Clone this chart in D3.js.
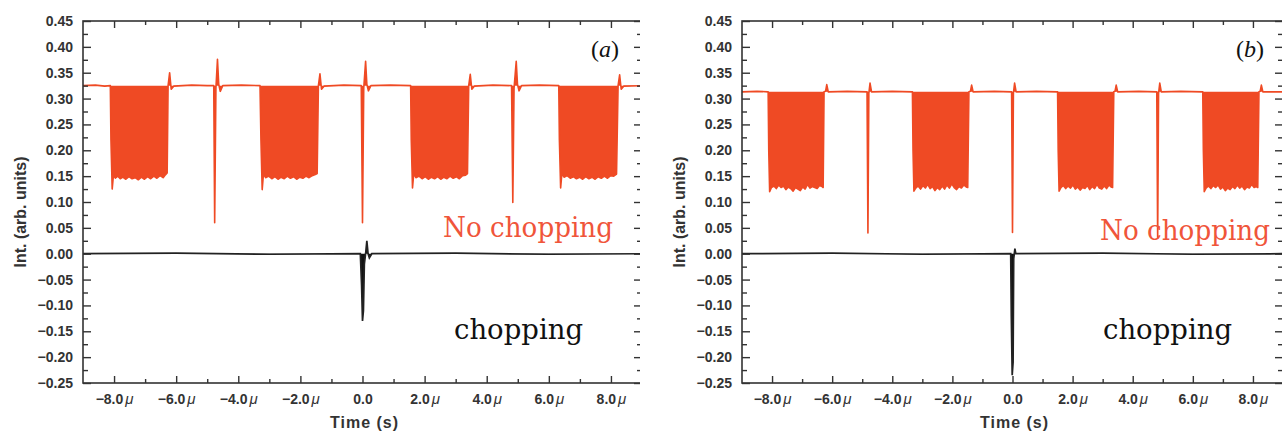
<!DOCTYPE html>
<html>
<head>
<meta charset="utf-8">
<script src="https://cdn.jsdelivr.net/npm/d3@7"></script>
<style>
body { margin: 0; background: #fff; }
svg { display: block; }
</style>
</head>
<body>
<div id="chart"></div>
<script>
// axis ticks
const yMajor = [-0.25, -0.20, -0.15, -0.10, -0.05, 0.00, 0.05, 0.10, 0.15, 0.20, 0.25, 0.30, 0.35, 0.40, 0.45];
const yMinor = [-0.225, -0.175, -0.125, -0.075, -0.025, 0.025, 0.075, 0.125, 0.175, 0.225, 0.275, 0.325, 0.375, 0.425];
const xMajor = [-8, -6, -4, -2, 0, 2, 4, 6, 8];
const xMajorLabels = ["−8.0", "−6.0", "−4.0", "−2.0", "0.0", "2.0", "4.0", "6.0", "8.0"];
const xMinor = [-7, -5, -3, -1, 1, 3, 5, 7];

// panel (a): no chopping trace [time µs, intensity]
const redA = [
  [-9.0, 0.325], [-8.6, 0.326], [-8.3, 0.324], [-8.12, 0.325],
  [-8.10, 0.22], [-8.06, 0.125], [-8.02, 0.152], [-7.96, 0.146], [-7.88, 0.150], [-7.80, 0.145], [-7.72, 0.148],
  [-7.62, 0.144], [-7.52, 0.149], [-7.42, 0.145], [-7.32, 0.147], [-7.22, 0.143], [-7.12, 0.148], [-7.02, 0.144],
  [-6.92, 0.149], [-6.82, 0.145], [-6.72, 0.150], [-6.62, 0.146], [-6.52, 0.151], [-6.42, 0.147], [-6.34, 0.153],
  [-6.29, 0.156], [-6.26, 0.325],
  [-6.21, 0.350], [-6.16, 0.318], [-6.08, 0.324], [-5.5, 0.326], [-5.0, 0.325], [-4.79, 0.325],
  [-4.76, 0.060], [-4.72, 0.320], [-4.67, 0.376], [-4.63, 0.328], [-4.58, 0.314], [-4.50, 0.325],
  [-3.9, 0.326], [-3.30, 0.325],
  [-3.27, 0.22], [-3.23, 0.124], [-3.19, 0.154], [-3.12, 0.147], [-3.02, 0.150], [-2.92, 0.145], [-2.82, 0.149],
  [-2.72, 0.144], [-2.62, 0.148], [-2.52, 0.145], [-2.42, 0.150], [-2.32, 0.146], [-2.22, 0.149], [-2.12, 0.144],
  [-2.02, 0.148], [-1.92, 0.146], [-1.82, 0.150], [-1.72, 0.147], [-1.62, 0.151], [-1.52, 0.153], [-1.46, 0.155],
  [-1.42, 0.325],
  [-1.37, 0.348], [-1.32, 0.318], [-1.24, 0.324], [-0.6, 0.326], [-0.04, 0.325],
  [0.00, 0.060], [0.04, 0.320], [0.10, 0.372], [0.14, 0.328], [0.19, 0.315], [0.27, 0.325],
  [0.9, 0.326], [1.55, 0.325],
  [1.57, 0.22], [1.61, 0.127], [1.65, 0.155], [1.72, 0.147], [1.82, 0.150], [1.92, 0.145], [2.02, 0.149],
  [2.12, 0.144], [2.22, 0.148], [2.32, 0.145], [2.42, 0.149], [2.52, 0.144], [2.62, 0.148], [2.72, 0.145],
  [2.82, 0.150], [2.92, 0.146], [3.02, 0.149], [3.12, 0.145], [3.22, 0.151], [3.32, 0.152], [3.38, 0.155],
  [3.42, 0.325],
  [3.47, 0.347], [3.52, 0.318], [3.60, 0.324], [4.2, 0.326], [4.80, 0.325],
  [4.84, 0.099], [4.88, 0.320], [4.95, 0.372], [4.99, 0.328], [5.04, 0.315], [5.12, 0.325],
  [5.7, 0.326], [6.32, 0.325],
  [6.34, 0.22], [6.38, 0.127], [6.42, 0.155], [6.49, 0.148], [6.59, 0.151], [6.69, 0.146], [6.79, 0.149],
  [6.89, 0.145], [6.99, 0.148], [7.09, 0.144], [7.19, 0.149], [7.29, 0.145], [7.39, 0.148], [7.49, 0.144],
  [7.59, 0.149], [7.69, 0.146], [7.79, 0.150], [7.89, 0.146], [7.99, 0.151], [8.09, 0.150], [8.18, 0.154],
  [8.23, 0.325],
  [8.28, 0.346], [8.33, 0.318], [8.41, 0.324], [9.0, 0.325]
];
const baseA = 0.325;

// panel (a): chopping trace
const blackA = [
  [-9.0, 0.0], [-6.0, 0.001], [-3.0, -0.001], [-0.07, 0.0],
  [-0.03, -0.06], [0.00, -0.130], [0.03, -0.110], [0.06, -0.020], [0.10, 0.0],
  [0.14, 0.025], [0.18, 0.0], [0.22, -0.008], [0.30, 0.0], [3.0, 0.001], [6.0, -0.001], [9.0, 0.0]
];

// panel (b): no chopping trace
const redB = [
  [-9.0, 0.313], [-8.5, 0.314], [-8.13, 0.313],
  [-8.11, 0.20], [-8.08, 0.120], [-8.02, 0.128], [-7.94, 0.131], [-7.86, 0.126], [-7.78, 0.133], [-7.70, 0.128],
  [-7.62, 0.131], [-7.54, 0.124], [-7.46, 0.129], [-7.38, 0.126], [-7.30, 0.121], [-7.22, 0.128], [-7.14, 0.125],
  [-7.06, 0.122], [-6.98, 0.129], [-6.90, 0.125], [-6.82, 0.134], [-6.74, 0.127], [-6.66, 0.130], [-6.58, 0.128],
  [-6.50, 0.126], [-6.42, 0.132], [-6.34, 0.130], [-6.30, 0.128], [-6.27, 0.313],
  [-6.22, 0.314], [-6.18, 0.327], [-6.13, 0.313], [-5.5, 0.314], [-4.84, 0.313],
  [-4.81, 0.040], [-4.78, 0.310], [-4.74, 0.330], [-4.69, 0.313],
  [-4.0, 0.314], [-3.33, 0.313],
  [-3.31, 0.20], [-3.28, 0.121], [-3.22, 0.127], [-3.14, 0.131], [-3.06, 0.125], [-2.98, 0.132], [-2.90, 0.127],
  [-2.82, 0.134], [-2.74, 0.126], [-2.66, 0.130], [-2.58, 0.122], [-2.50, 0.128], [-2.42, 0.124], [-2.34, 0.131],
  [-2.26, 0.125], [-2.18, 0.133], [-2.10, 0.127], [-2.02, 0.135], [-1.94, 0.128], [-1.86, 0.124], [-1.78, 0.130],
  [-1.70, 0.127], [-1.62, 0.133], [-1.54, 0.129], [-1.49, 0.128], [-1.45, 0.313],
  [-1.40, 0.314], [-1.36, 0.326], [-1.31, 0.313], [-0.6, 0.314], [-0.03, 0.313],
  [0.00, 0.041], [0.03, 0.310], [0.07, 0.330], [0.12, 0.313],
  [0.8, 0.314], [1.50, 0.313],
  [1.52, 0.20], [1.55, 0.121], [1.61, 0.128], [1.69, 0.132], [1.77, 0.126], [1.85, 0.131], [1.93, 0.127],
  [2.01, 0.133], [2.09, 0.125], [2.17, 0.129], [2.25, 0.123], [2.33, 0.128], [2.41, 0.126], [2.49, 0.132],
  [2.57, 0.124], [2.65, 0.130], [2.73, 0.126], [2.81, 0.134], [2.89, 0.127], [2.97, 0.125], [3.05, 0.131],
  [3.13, 0.126], [3.21, 0.133], [3.28, 0.129], [3.33, 0.128], [3.37, 0.313],
  [3.41, 0.314], [3.45, 0.326], [3.50, 0.313], [4.2, 0.314], [4.80, 0.313],
  [4.83, 0.030], [4.86, 0.310], [4.90, 0.330], [4.95, 0.313],
  [5.6, 0.314], [6.33, 0.313],
  [6.35, 0.20], [6.38, 0.120], [6.44, 0.127], [6.52, 0.131], [6.60, 0.126], [6.68, 0.132], [6.76, 0.128],
  [6.84, 0.133], [6.92, 0.125], [7.00, 0.129], [7.08, 0.122], [7.16, 0.127], [7.24, 0.124], [7.32, 0.130],
  [7.40, 0.126], [7.48, 0.133], [7.56, 0.127], [7.64, 0.131], [7.72, 0.124], [7.80, 0.129], [7.88, 0.127],
  [7.96, 0.134], [8.04, 0.128], [8.11, 0.130], [8.16, 0.128], [8.20, 0.313],
  [8.24, 0.314], [8.28, 0.326], [8.33, 0.313], [9.0, 0.313]
];
const baseB = 0.313;

// panel (b): chopping trace
const blackB = [
  [-9.0, 0.0], [-6.0, 0.001], [-3.0, -0.001], [-0.06, 0.0],
  [-0.04, -0.120], [-0.01, -0.235], [0.02, -0.210], [0.04, -0.010], [0.06, 0.0],
  [0.08, 0.010], [0.11, 0.0], [3.0, 0.001], [6.0, -0.001], [9.0, 0.0]
];

const width = 1282, height = 433;
const svg = d3.select("#chart").append("svg")
  .attr("width", width)
  .attr("height", height);

const plotTop = 21, plotBottom = 383;
const axisColor = "#333";
const redColor = "#ef4a24";
const sans = "'Liberation Sans', Arial, sans-serif";

function drawPanel(p) {
  const x = d3.scaleLinear().domain([-9, 9]).range([p.left, p.right]);
  const y = d3.scaleLinear().domain([-0.25, 0.45]).range([plotBottom, plotTop]);

  svg.append("clipPath").attr("id", "clip" + p.id)
    .append("rect").attr("x", p.clipX0).attr("y", 0)
    .attr("width", p.clipX1 - p.clipX0).attr("height", height);

  const g = svg.append("g").attr("clip-path", "url(#clip" + p.id + ")");

  // chopping trace (black)
  g.append("path").datum(p.black)
    .attr("fill", "#111")
    .attr("d", d3.area().x(d => x(d[0])).y0(y(0)).y1(d => y(d[1])));
  g.append("path").datum(p.black)
    .attr("fill", "none")
    .attr("stroke", "#222")
    .attr("stroke-width", 1.7)
    .attr("d", d3.line().x(d => x(d[0])).y(d => y(d[1])));

  // no chopping trace (red), fast oscillation shows as a filled band
  g.append("path").datum(p.red)
    .attr("fill", redColor)
    .attr("d", d3.area().x(d => x(d[0])).y0(y(p.base)).y1(d => y(d[1])));
  g.append("path").datum(p.red)
    .attr("fill", "none")
    .attr("stroke", redColor)
    .attr("stroke-width", 1.6)
    .attr("stroke-linejoin", "round")
    .attr("d", d3.line().x(d => x(d[0])).y(d => y(d[1])));

  // frame
  g.append("rect")
    .attr("x", p.left).attr("y", plotTop)
    .attr("width", p.right - p.left).attr("height", plotBottom - plotTop)
    .attr("fill", "none").attr("stroke", axisColor).attr("stroke-width", 1.6);

  function style(sel) {
    sel.select(".domain").remove();
    sel.selectAll(".tick line").attr("stroke", axisColor).attr("stroke-width", 1.4);
    sel.selectAll(".tick text")
      .attr("fill", "#333")
      .style("font-family", sans)
      .style("font-weight", "bold")
      .style("font-size", "14px");
  }

  // bottom
  g.append("g").attr("transform", `translate(0,${plotBottom})`)
    .call(d3.axisBottom(x).tickValues(xMajor).tickSize(-7).tickPadding(11)
      .tickFormat((d, i) => xMajorLabels[i]))
    .call(style)
    .call(s => s.selectAll(".tick text").each(function(d) {
      if (d !== 0) {
        d3.select(this).append("tspan").attr("dx", 2)
          .style("font-style", "italic").style("font-weight", "normal")
          .style("font-size", "15px").text("μ");
      }
    }));
  g.append("g").attr("transform", `translate(0,${plotBottom})`)
    .call(d3.axisBottom(x).tickValues(xMinor).tickSize(-4).tickFormat(""))
    .call(style);
  // top
  g.append("g").attr("transform", `translate(0,${plotTop})`)
    .call(d3.axisTop(x).tickValues(xMajor).tickSize(-7).tickFormat(""))
    .call(style);
  g.append("g").attr("transform", `translate(0,${plotTop})`)
    .call(d3.axisTop(x).tickValues(xMinor).tickSize(-4).tickFormat(""))
    .call(style);
  // left
  g.append("g").attr("transform", `translate(${p.left},0)`)
    .call(d3.axisLeft(y).tickValues(yMajor).tickSize(-8).tickPadding(10).tickFormat(d3.format(".2f")))
    .call(style);
  g.append("g").attr("transform", `translate(${p.left},0)`)
    .call(d3.axisLeft(y).tickValues(yMinor).tickSize(-5).tickFormat(""))
    .call(style);
  // right
  g.append("g").attr("transform", `translate(${p.right},0)`)
    .call(d3.axisRight(y).tickValues(yMajor).tickSize(-8).tickFormat(""))
    .call(style);
  g.append("g").attr("transform", `translate(${p.right},0)`)
    .call(d3.axisRight(y).tickValues(yMinor).tickSize(-5).tickFormat(""))
    .call(style);

  // axis titles
  g.append("text")
    .attr("x", x(0) + 2).attr("y", 428)
    .attr("text-anchor", "middle")
    .attr("fill", "#333")
    .style("font-family", sans)
    .style("font-weight", "bold")
    .style("font-size", "16px")
    .style("letter-spacing", "1px")
    .text("Time (s)");
  g.append("text")
    .attr("transform", `translate(${p.left - 57},${212}) rotate(-90)`)
    .attr("text-anchor", "middle")
    .attr("fill", "#333")
    .style("font-family", sans)
    .style("font-weight", "bold")
    .style("font-size", "16px")
    .text("Int. (arb. units)");

  // annotations (not clipped)
  const notes = svg.append("g");
  const tag = notes.append("text")
    .attr("x", p.tagX).attr("y", 57)
    .attr("text-anchor", "middle")
    .attr("fill", "#111")
    .style("font-family", "'Liberation Serif', 'Times New Roman', serif")
    .style("font-size", "24px");
  tag.append("tspan").text("(");
  tag.append("tspan").style("font-style", "italic").text(p.tag);
  tag.append("tspan").text(")");

  notes.append("text")
    .attr("x", p.noChopX).attr("y", p.noChopY)
    .attr("fill", "#f0553a")
    .attr("textLength", 170).attr("lengthAdjust", "spacingAndGlyphs")
    .style("font-family", "'DejaVu Serif', serif")
    .style("font-size", "27px")
    .text("No chopping");
  notes.append("text")
    .attr("x", p.chopX).attr("y", 339)
    .attr("fill", "#111")
    .attr("textLength", 129).attr("lengthAdjust", "spacingAndGlyphs")
    .style("font-family", "'DejaVu Serif', serif")
    .style("font-size", "28px")
    .text("chopping");
}

drawPanel({ id: "a", left: 83, right: 642, clipX0: 0, clipX1: 640, red: redA, base: baseA, black: blackA,
  tag: "a", tagX: 605, noChopX: 443, noChopY: 237, chopX: 454 });
drawPanel({ id: "b", left: 742, right: 1283, clipX0: 640, clipX1: 1282, red: redB, base: baseB, black: blackB,
  tag: "b", tagX: 1250, noChopX: 1100, noChopY: 240, chopX: 1103 });
</script>
</body>
</html>
